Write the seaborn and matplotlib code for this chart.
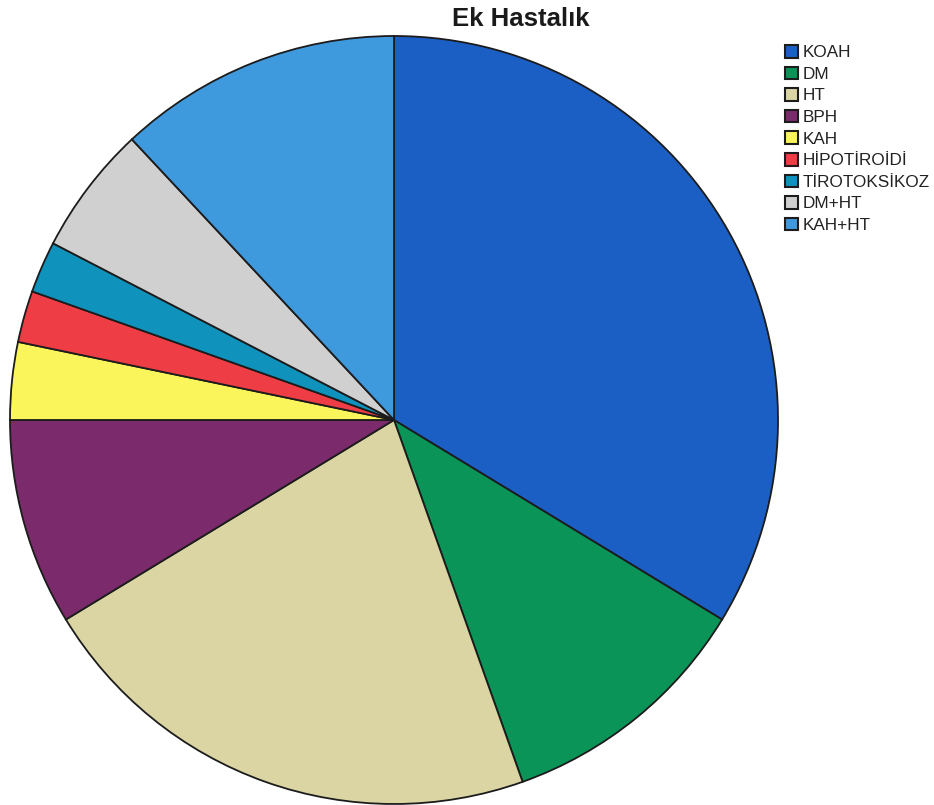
import matplotlib
matplotlib.use("Agg")
import matplotlib.pyplot as plt
from matplotlib.patches import Patch
import seaborn as sns

# Ek hastalık dağılımı (hasta sayıları)
categories = ["KOAH", "DM", "HT", "BPH", "KAH", "HİPOTİROİDİ", "TİROTOKSİKOZ", "DM+HT", "KAH+HT"]
counts = [31, 10, 20, 8, 3, 2, 2, 5, 11]
slice_colors = ["#1b5fc4", "#0b9457", "#dad5a3", "#7b2b6c", "#fbf55c",
                "#ee3d44", "#0f93bd", "#d0d0d0", "#3f99dd"]

sns.set_theme(style="white")
plt.rcParams["font.family"] = ["Liberation Sans", "DejaVu Sans"]

palette = sns.color_palette(slice_colors)

fig = plt.figure(figsize=(9.34, 8.05), dpi=100)
fig.patch.set_facecolor("white")

# Pie area: circle of radius 384 px centred at (394, 420) from top-left
cx, cy, r = 394, 420, 384
W, H = 934, 805
ax = fig.add_axes([(cx - r) / W, (H - cy - r) / H, 2 * r / W, 2 * r / H])

wedges, _ = ax.pie(counts, colors=palette, startangle=90, counterclock=False,
                   wedgeprops=dict(edgecolor="#1c1c1c", linewidth=1.3))
ax.set_xlim(-1.0, 1.0)
ax.set_ylim(-1.0, 1.0)
ax.set_aspect("equal")
ax.axis("off")
for w in wedges:
    w.set_clip_on(False)

fig.text(521 / W, 1 - 19 / H, "Ek Hastalık", ha="center", va="center",
         fontsize=18.5, fontweight="bold", color="#1a1a1a")

handles = [Patch(facecolor=c, edgecolor="#1c1c1c", linewidth=1.5) for c in palette]
leg = fig.legend(handles, categories, loc="upper left",
                 bbox_to_anchor=(785 / W, 1 - 45 / H), frameon=False,
                 fontsize=12.3, handlelength=0.76, handleheight=0.76,
                 handletextpad=0.25, labelspacing=0.37, borderpad=0,
                 borderaxespad=0)
for t in leg.get_texts():
    t.set_color("#222222")

fig.savefig("out.png", dpi=100, facecolor="white")
